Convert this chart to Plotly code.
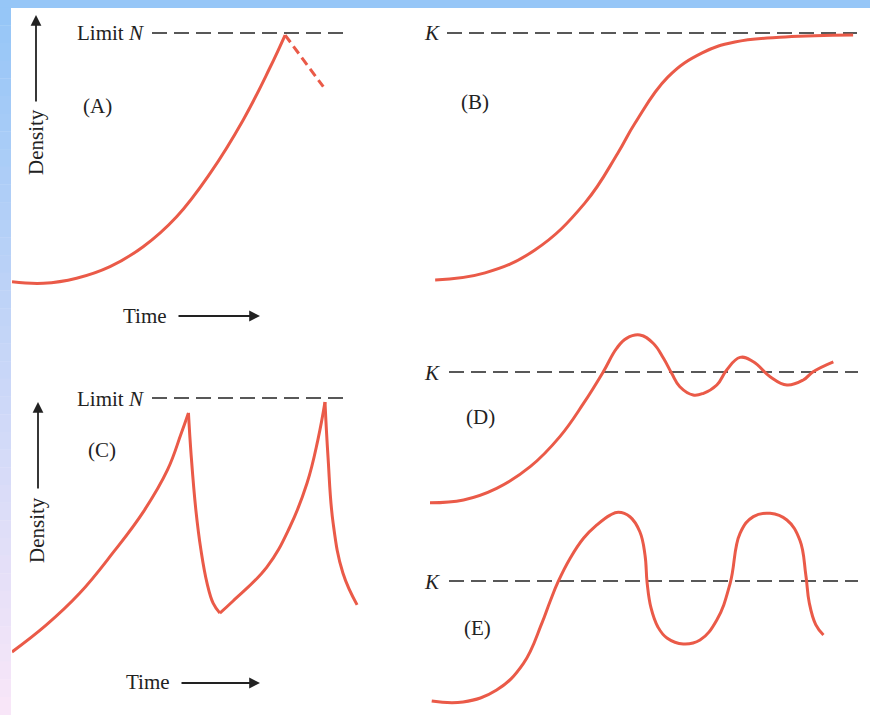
import plotly.graph_objects as go

W, H = 870, 715

# ---------------- data (time in arbitrary units, density with limit = 100) ----------------
a_time = [0.0, 0.93, 1.91, 2.90, 3.88, 4.87, 5.86, 6.84, 7.63, 8.08]
a_density = [1.3, 0.7, 2.7, 7.3, 15.2, 27.1, 44.3, 65.5, 86.2, 99.2]
a_crash_time = [8.08, 9.21]
a_crash_density = [99.2, 78.7]

b_time = [0.12, 1.28, 2.44, 3.60, 4.37, 4.77, 5.53, 6.33, 7.09, 8.26, 9.84]
b_density = [2.0, 4.8, 13.9, 32.5, 52.4, 64.3, 82.5, 92.1, 96.4, 98.4, 99.2]

# (C) is made of four smooth pieces that meet at sharp peaks / troughs
c_time = [0.0, 1.0, 2.0, 3.0, 3.9, 4.6, 5.0, 5.22,
          5.30, 5.44, 5.59, 5.77, 5.95, 6.15,
          6.54, 7.54, 8.22, 8.73, 9.05, 9.26,
          9.35, 9.50, 9.79, 10.21]
c_density = [1.2, 11.5, 24.0, 40.0, 56.0, 72.0, 86.0, 94.2,
             77.8, 56.4, 40.9, 28.0, 20.2, 16.3,
             21.0, 34.2, 49.8, 66.9, 83.7, 98.4,
             77.0, 51.4, 31.9, 19.5]
c_corners = [7, 13, 19]  # indices of the cusps

d_time = [0.0, 0.78, 1.55, 2.33, 3.02, 3.57, 4.03, 4.34, 4.57, 4.88, 5.19, 5.43,
          5.62, 5.81, 6.12, 6.36, 6.67, 6.90, 7.21, 7.52, 7.91, 8.30, 8.68, 8.91, 9.38]
d_density = [1.7, 3.8, 12.5, 28.8, 51.4, 76.4, 100.2, 117.8, 125.3, 127.8, 121.6, 110.3,
             99.0, 88.9, 82.7, 84.0, 90.2, 101.5, 111.0, 107.7, 96.5, 90.2, 94.0, 100.2, 107.7]

e_time = [0.04, 0.77, 1.55, 2.17, 2.60, 2.79, 2.98, 3.26, 3.57, 3.88, 4.19, 4.38,
          4.65, 4.88, 5.00, 5.05, 5.14, 5.30, 5.51, 5.89, 6.28, 6.67, 6.98, 7.21,
          7.52, 7.91, 8.30, 8.60, 8.74, 8.82, 8.97, 9.15]
e_density = [0.8, 0.0, 9.9, 31.7, 65.0, 82.9, 99.4, 118.8, 135.3, 146.3, 154.5, 156.8,
             153.1, 140.7, 121.5, 98.3, 77.7, 62.0, 52.9, 47.9, 51.2, 67.8, 98.1, 139.4,
             153.2, 155.9, 150.4, 133.9, 105.0, 82.0, 64.0, 55.4]

limit_label = "Limit <i>N</i>"
k_label = "<i>K</i>"
panel_labels = ["(A)", "(B)", "(C)", "(D)", "(E)"]
axis_y_text = "Density"
axis_x_text = "Time"

# ---------------- layout helpers ----------------
RED = "#ea5a48"
INK = "#222222"
FONT = "Liberation Serif, Times New Roman, serif"


def fx(px):
    return px / W


def fy(py):
    return 1 - py / H


# panel boxes in pixels
panels = {
    "A": dict(x0=12, x1=362, tmax=(362 - 12) / 33.8, y0=285, y100=33),
    "B": dict(x0=430, x1=862, tmax=(862 - 430) / 43.0, y0=285, y100=33),
    "C": dict(x0=12, x1=362, tmax=(362 - 12) / 33.8, y0=655, y100=398),
    "D": dict(x0=430, x1=862, tmax=(862 - 430) / 43.0, y0=505, y100=372),
    "E": dict(x0=430, x1=862, tmax=(862 - 430) / 43.0, y0=702, y100=581),
}

fig = go.Figure()
layout_axes = {}
axis_ids = {}
for i, (name, p) in enumerate(panels.items(), start=1):
    xa = "xaxis" if i == 1 else f"xaxis{i}"
    ya = "yaxis" if i == 1 else f"yaxis{i}"
    xr = "x" if i == 1 else f"x{i}"
    yr = "y" if i == 1 else f"y{i}"
    axis_ids[name] = (xr, yr)
    top_px = max(0, p["y100"] - 75)
    bot_px = min(H, p["y0"] + 12)
    span = (p["y0"] - p["y100"]) / 100.0  # px per density unit
    dmin = -(bot_px - p["y0"]) / span
    dmax = 100 + (p["y100"] - top_px) / span
    layout_axes[xa] = dict(domain=[fx(p["x0"]), fx(p["x1"])], range=[0, p["tmax"]],
                           visible=False, anchor=yr, fixedrange=True)
    layout_axes[ya] = dict(domain=[fy(bot_px), fy(top_px)], range=[dmin, dmax],
                           visible=False, anchor=xr, fixedrange=True)

line_style = dict(color=RED, width=3, shape="spline", smoothing=1.2)


def add_curve(panel, t, d, dash=None):
    xr, yr = axis_ids[panel]
    ls = dict(line_style)
    if dash:
        ls["dash"] = dash
        ls["shape"] = "linear"
    fig.add_trace(go.Scatter(x=t, y=d, mode="lines", line=ls, xaxis=xr, yaxis=yr,
                             hoverinfo="skip", showlegend=False))


def add_limit(panel, t0, t1):
    xr, yr = axis_ids[panel]
    fig.add_trace(go.Scatter(x=[t0, t1], y=[100, 100], mode="lines",
                             line=dict(color=INK, width=1.5, dash="15px,7px"),
                             xaxis=xr, yaxis=yr, hoverinfo="skip", showlegend=False))


# limit lines (behind curves)
add_limit("A", (152 - 12) / 33.8, (348 - 12) / 33.8)
add_limit("B", (447 - 430) / 43.0, (857 - 430) / 43.0)
add_limit("C", (152 - 12) / 33.8, (348 - 12) / 33.8)
add_limit("D", (449 - 430) / 43.0, (858 - 430) / 43.0)
add_limit("E", (449 - 430) / 43.0, (858 - 430) / 43.0)

add_curve("A", a_time, a_density)
add_curve("A", a_crash_time, a_crash_density, dash="9px,5px")
add_curve("B", b_time, b_density)
bounds = [0] + c_corners + [len(c_time) - 1]
for s, e in zip(bounds[:-1], bounds[1:]):
    add_curve("C", c_time[s:e + 1], c_density[s:e + 1])
add_curve("D", d_time, d_density)
add_curve("E", e_time, e_density)

annotations = []
font = dict(family=FONT, size=21, color=INK)


def text(px, py, s, xanchor="center", angle=0):
    annotations.append(dict(x=fx(px), y=fy(py), xref="paper", yref="paper", text=s,
                            showarrow=False, font=font, xanchor=xanchor, yanchor="middle",
                            textangle=angle))


def arrow(x_from, y_from, x_to, y_to):
    annotations.append(dict(x=fx(x_to), y=fy(y_to), ax=x_from - x_to, ay=y_from - y_to,
                            xref="paper", yref="paper", axref="pixel", ayref="pixel",
                            text="", showarrow=True, arrowhead=2, arrowsize=1.2,
                            arrowwidth=1.8, arrowcolor=INK))


# labels
text(146, 33, limit_label, xanchor="right")
text(146, 399, limit_label, xanchor="right")
text(442, 33, k_label, xanchor="right")
text(442, 373, k_label, xanchor="right")
text(442, 582, k_label, xanchor="right")
text(97, 106, panel_labels[0])
text(475, 102, panel_labels[1])
text(102, 450, panel_labels[2])
text(480, 417, panel_labels[3])
text(477, 628, panel_labels[4])

# axis captions with arrows
text(36, 142, axis_y_text, angle=-90)
arrow(36, 103, 36, 15)
text(37, 530, axis_y_text, angle=-90)
arrow(38, 490, 38, 402)
text(145, 316, axis_x_text)
arrow(177, 316, 260, 316)
text(148, 682, axis_x_text)
arrow(180, 683, 260, 683)

# slide background strips (top blue, left gradient blue -> pink)
shapes = [dict(type="rect", xref="paper", yref="paper", x0=0, x1=1, y0=fy(8), y1=1,
               fillcolor="#96c6f7", line=dict(width=0), layer="below")]
top_rgb = (150, 198, 247)
bot_rgb = (248, 230, 248)
n = 40
for k in range(n):
    f = k / (n - 1)
    c = tuple(int(round(top_rgb[j] + (bot_rgb[j] - top_rgb[j]) * f)) for j in range(3))
    y_top = 8 + (H - 8) * k / n
    y_bot = 8 + (H - 8) * (k + 1) / n
    shapes.append(dict(type="rect", xref="paper", yref="paper", x0=0, x1=fx(11),
                       y0=fy(y_bot), y1=fy(y_top) + 0.0005,
                       fillcolor="rgb(%d,%d,%d)" % c, line=dict(width=0), layer="below"))

fig.update_layout(
    width=W, height=H, margin=dict(l=0, r=0, t=0, b=0),
    paper_bgcolor="white", plot_bgcolor="rgba(0,0,0,0)",
    showlegend=False, annotations=annotations, shapes=shapes,
    **layout_axes,
)

fig.write_html(
    "out.html",
    config={"displayModeBar": False, "staticPlot": True},
    post_script="document.body.style.margin='0';document.body.style.overflow='hidden';",
)
